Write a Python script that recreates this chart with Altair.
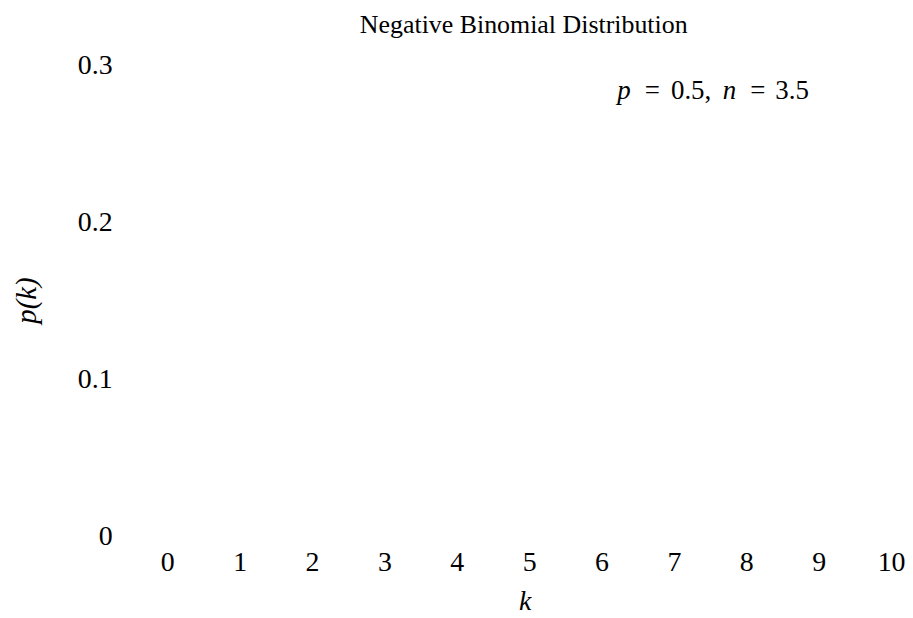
import altair as alt
import pandas as pd

# ---- data ----
k_values = [0, 1, 2, 3, 4, 5, 6, 7, 8, 9, 10]
y_ticks = [0, 0.1, 0.2, 0.3]
x_domain = [-0.5, 10]
y_domain = [0, 0.3]
title_text = "Negative Binomial Distribution"
x_label = "k"
y_label = "p(k)"
annot_text = ["p", "=", "0.5,", "n", "=", "3.5"]
annot_style = ["italic", "normal", "normal", "italic", "normal", "normal"]

# ---- layout ----
FONT = "Liberation Serif"
W, H = 763.35, 474
PAD = {"left": 123.65, "top": 56, "right": 14, "bottom": 80}
annot_cx = [495, 523.5, 562.5, 601, 629.5, 664]   # plot-area pixels (centres)
annot_y = 34

base = alt.Chart(pd.DataFrame({"k": k_values, "p": [y_domain[0]] * len(k_values)})).mark_point(
    opacity=0
).encode(
    x=alt.X(
        "k:Q",
        scale=alt.Scale(domain=x_domain, nice=False, zero=False),
        axis=alt.Axis(
            values=k_values, format="d", ticks=False, domain=False, grid=False,
            labelFont=FONT, labelFontSize=28, labelColor="black", labelPadding=12,
            labelFlush=False, labelOverlap=False,
            title=x_label, titleFont=FONT, titleFontSize=28, titleFontStyle="italic",
            titleFontWeight="normal", titleColor="black",
            titleX=395.35, titleY=73, titleBaseline="alphabetic", titleAlign="center",
        ),
    ),
    y=alt.Y(
        "p:Q",
        scale=alt.Scale(domain=y_domain, nice=False, zero=False),
        axis=alt.Axis(
            values=y_ticks, format=".1~f", ticks=False, domain=False, grid=False,
            labelFont=FONT, labelFontSize=28, labelColor="black", labelPadding=19,
            labelFlush=False, labelOverlap=False,
            title=y_label, titleFont=FONT, titleFontSize=29, titleFontStyle="italic",
            titleFontWeight="normal", titleColor="black", titleAngle=270,
            titleX=-104.65, titleY=236, titleBaseline="middle", titleAlign="center",
        ),
    ),
)

layers = [base]
for txt, sty, px in zip(annot_text, annot_style, annot_cx):
    layers.append(
        alt.Chart(pd.DataFrame({"t": [txt]})).mark_text(
            font=FONT, fontSize=27, fontStyle=sty, align="center", baseline="alphabetic", color="black"
        ).encode(x=alt.value(px), y=alt.value(annot_y), text="t:N")
    )

chart = alt.layer(*layers).properties(
    width=W,
    height=H,
    background="white",
    title=alt.TitleParams(
        title_text, font=FONT, fontSize=26, fontWeight="normal", color="black",
        anchor="middle", frame="group", dx=12.7, offset=13,
    ),
    autosize=alt.AutoSizeParams(type="none"),
    padding=PAD,
).configure_view(strokeWidth=0, stroke=None)

chart.save("out.html", embed_options={"renderer": "svg", "actions": False})
